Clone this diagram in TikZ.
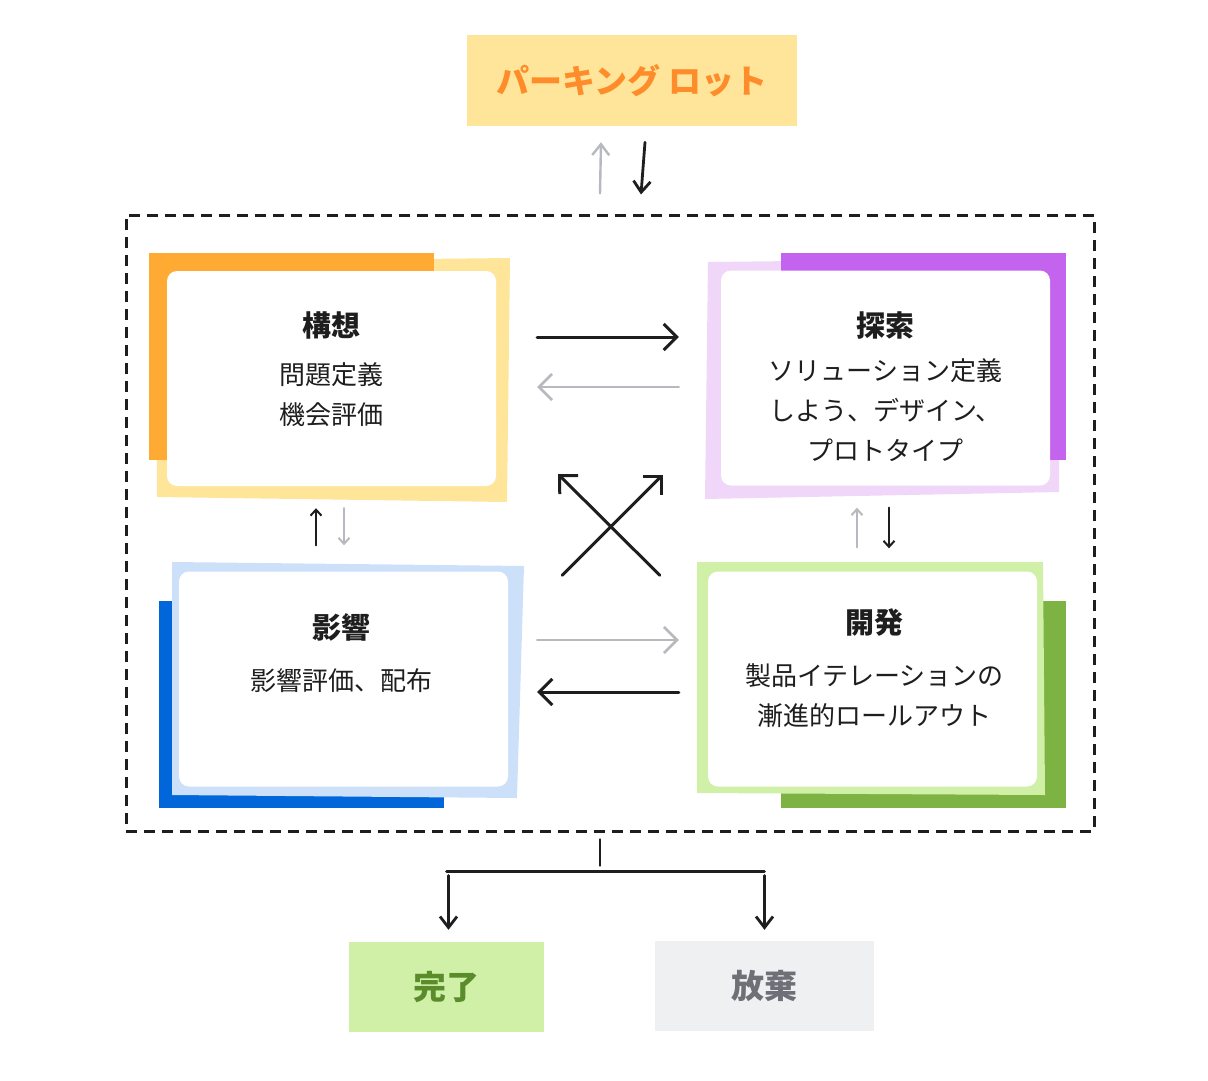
\documentclass[tikz,border=0pt]{standalone}
\usepackage{fontspec}
\setmainfont{Noto Sans CJK JP}
\usetikzlibrary{calc,positioning,arrows.meta}

\definecolor{parkfill}{HTML}{FFE599}
\definecolor{parktext}{HTML}{FF8C2A}
\definecolor{ideadark}{HTML}{FFAA33}
\definecolor{idealight}{HTML}{FFE599}
\definecolor{explodark}{HTML}{C463EE}
\definecolor{explolight}{HTML}{F0D6F8}
\definecolor{impactdark}{HTML}{0066DA}
\definecolor{impactlight}{HTML}{CCE0FA}
\definecolor{builddark}{HTML}{7CB342}
\definecolor{buildlight}{HTML}{D0F0A8}
\definecolor{donetext}{HTML}{5A8C2C}
\definecolor{dropfill}{HTML}{EFF0F2}
\definecolor{droptext}{HTML}{6E6F77}
\definecolor{faded}{HTML}{B8B9BE}
\definecolor{ink}{HTML}{1E1E1E}

\begin{document}
\begin{tikzpicture}[x=1pt, y=-1pt,
	card/.style={fill=white, rounded corners=10pt, inner sep=0pt,
		minimum width=329pt, minimum height=215pt},
	ttl/.style={inner sep=0pt, text=ink, font=\fontsize{29}{35}\selectfont\bfseries},
	txt/.style={inner sep=0pt, text=ink, align=center, font=\fontsize{26}{40}\selectfont},
	tag/.style={inner sep=0pt, font=\fontsize{33}{38}\selectfont\bfseries},
	arr/.style={ink, line width=3pt, line cap=round,
		-{Straight Barb[length=13pt,width=26pt]}},
	arrmid/.style={ink, line width=2.8pt, line cap=round,
		-{Straight Barb[length=11pt,width=17pt]}},
	arrsmall/.style={ink, line width=2pt, line cap=round,
		-{Straight Barb[length=6pt,width=11pt]}}]

% canvas %{{{2

	\useasboundingbox (0,0) rectangle (1208,1080);

% frame and outer boxes %{{{2

	\node[draw=ink, line width=3pt, dash pattern=on 11pt off 7pt,
		minimum width=968pt, minimum height=616pt, inner sep=0pt] (frame) at (610,523) {};

	\node[tag, fill=parkfill, text=parktext, minimum width=330pt, minimum height=91pt]
		(park) at (632,80.5) {パーキング ロット};

	\node[tag, fill=buildlight, text=donetext, minimum width=195pt, minimum height=90pt]
		(done) at (446.5,987) {完了};

	\node[tag, fill=dropfill, text=droptext, minimum width=219pt, minimum height=90pt]
		(drop) at (764.5,986) {放棄};

% card backgrounds %{{{2

	\fill[idealight] (156,262) -- (510,258) -- (507,502) -- (157,497) -- cycle;
	\fill[ideadark] (149,253) rectangle (434,460);

	\fill[explolight] (708,262) -- (1060,258) -- (1059,492) -- (705,499) -- cycle;
	\fill[explodark] (781,253) rectangle (1066,460);

	\fill[impactdark] (159,601) rectangle (444,808);
	\fill[impactlight] (172,562) -- (524,566) -- (517,798) -- (172,795) -- cycle;

	\fill[builddark] (781,601) rectangle (1066,808);
	\fill[buildlight] (697,562) -- (1043,562) -- (1045,795) -- (697,793) -- cycle;

% cards %{{{2

	\node[card] (c1) at (331.5,378.5) {};
	\node[card] (c2) at (885.5,378) {};
	\node[card] (c3) at (343.5,679) {};
	\node[card] (c4) at (872.5,679) {};

	\node[ttl] (t1) at ($(c1.north)+(0,55)$) {構想};
	\node[ttl] (t2) at ($(c2.north)+(0,55)$) {探索};
	\node[ttl] (t3) at ($(c3.north)+(-2,56)$) {影響};
	\node[ttl] (t4) at ($(c4.north)+(2,51)$) {開発};

	\node[txt, below=23pt of t1] (b1) {問題定義\\機会評価};
	\node[txt, below=19pt of t2] (b2) {ソリューション定義\\しよう、デザイン、\\プロトタイプ};
	\node[txt, below=27pt of t3] (b3) {影響評価、配布};
	\node[txt, below=27pt of t4] (b4) {製品イテレーションの\\漸進的ロールアウト};

% parking lot arrows %{{{2

	\draw[arrmid, faded, line width=2.4pt] ($(frame.north)+(-10,-20)$) -- ($(park.south)+(-31,16)$);
	\draw[arrmid] ($(park.south)+(13,16)$) -- ($(frame.north)+(31,-19)$);

% arrows between cards %{{{2

	\draw[arr] ($(c1.east)+(41,-41.5)$) -- ($(c2.west)+(-42,-41)$);
	\draw[arr, faded, line width=2.6pt] ($(c2.west)+(-42,9)$) -- ($(c1.east)+(41,8.5)$);

	\draw[arr, faded, line width=2.6pt] ($(c3.east)+(29,-39)$) -- ($(c4.west)+(-29,-39)$);
	\draw[arr] ($(c4.west)+(-29,13)$) -- ($(c3.east)+(29,13)$);

	\draw[arr] ($(c3.north east)+(54,4)$) -- ($(c2.south west)+(-58,-11)$);
	\draw[arr] ($(c4.north west)+(-48,4)$) -- ($(c1.south east)+(62,-12)$);

	\draw[arrsmall] ($(c3.north)+(-27.5,-26)$) -- ($(c1.south)+(-15.5,22)$);
	\draw[arrsmall, faded] ($(c1.south)+(12.5,22)$) -- ($(c3.north)+(0.5,-26)$);

	\draw[arrsmall, faded] ($(c4.north)+(-15.5,-24)$) -- ($(c2.south)+(-28.5,22)$);
	\draw[arrsmall] ($(c2.south)+(3.5,22)$) -- ($(c4.north)+(16.5,-23)$);

% outcome fork %{{{2

	\coordinate (fork) at ($(frame.south)+(-10,39)$);

	\draw[ink, line width=2.8pt, line cap=round]
		($(frame.south)+(-10,7)$) -- ($(frame.south)+(-10,33)$);
	\draw[ink, line width=2.8pt, line cap=round]
		(done.north |- fork) -- (drop.north |- fork);

	\draw[arrmid] ($(done.north |- fork)+(2,4)$) -- ($(done.north)+(2,-12)$);
	\draw[arrmid] ($(drop.north |- fork)+(0,4)$) -- ($(drop.north)+(0,-11)$);

% closing %{{{2

\end{tikzpicture}
\end{document}
